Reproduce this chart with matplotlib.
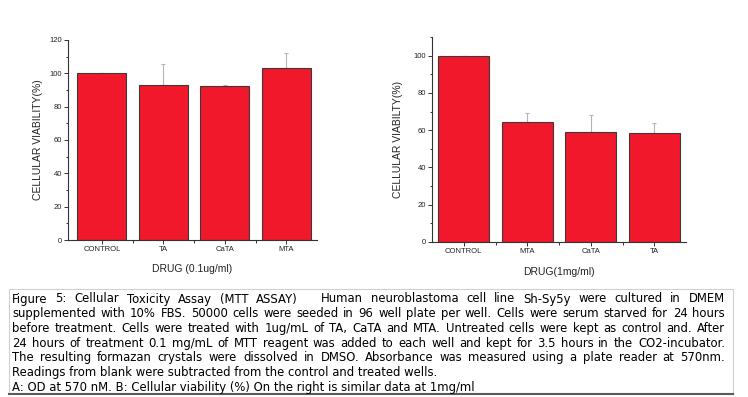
import numpy as np
import matplotlib
matplotlib.use('Agg')
import matplotlib.pyplot as plt
from matplotlib.ticker import MultipleLocator, FixedLocator
from matplotlib.patches import Rectangle
from matplotlib.lines import Line2D

# left panel: 0.1ug/ml
drugs_a = ['CONTROL', 'TA', 'CaTA', 'MTA']
viab_a = [100.0, 93.0, 92.5, 103.0]
err_a = [0.0, 12.5, 0.8, 9.5]

# right panel: 1mg/ml
drugs_b = ['CONTROL', 'MTA', 'CaTA', 'TA']
viab_b = [100.0, 64.3, 59.2, 58.6]
err_b = [0.0, 5.0, 9.0, 5.2]

caption = [
    "Figure 5: Cellular Toxicity Assay (MTT ASSAY)   Human neuroblastoma cell line Sh-Sy5y were cultured in DMEM",
    "supplemented with 10% FBS. 50000 cells were seeded in 96 well plate per well. Cells were serum starved for 24 hours",
    "before treatment. Cells were treated with 1ug/mL of TA, CaTA and MTA. Untreated cells were kept as control and. After",
    "24 hours of treatment 0.1 mg/mL of MTT reagent was added to each well and kept for 3.5 hours in the CO2-incubator.",
    "The resulting formazan crystals were dissolved in DMSO. Absorbance was measured using a plate reader at 570nm.",
    "Readings from blank were subtracted from the control and treated wells.",
    "A: OD at 570 nM. B: Cellular viability (%) On the right is similar data at 1mg/ml",
]
justified = [True, True, True, True, True, False, False]

W, H = 748, 397
bar_color = '#f2182b'
edge_color = '#3a3a3a'

plt.rcParams['font.family'] = ['Liberation Sans', 'DejaVu Sans']

fig = plt.figure(figsize=(W / 100, H / 100), dpi=100)


def px_axes(x0, x1, ytop, ybot):
    return fig.add_axes([x0 / W, 1 - ybot / H, (x1 - x0) / W, (ybot - ytop) / H])


def draw_panel(ax, names, vals, errs, ymax, xlabel, ylabel, xlim, ylab_x, xlab_y):
    x = np.arange(len(names))
    ax.bar(x, vals, width=0.8, color=bar_color, edgecolor=edge_color, linewidth=0.8, zorder=2)
    ax.errorbar(x, vals, yerr=[np.zeros(len(errs)), errs], fmt='none',
                ecolor='#b5b5b5', elinewidth=0.8, capsize=1.5, capthick=0.8, zorder=1)
    ax.set_xlim(*xlim)
    ax.set_ylim(0, ymax)
    ax.set_xticks(x)
    ax.set_xticklabels(names)
    ax.xaxis.set_minor_locator(FixedLocator(x[:-1] + 0.5))
    ax.yaxis.set_major_locator(MultipleLocator(20))
    ax.yaxis.set_minor_locator(MultipleLocator(10))
    for s in ['top', 'right']:
        ax.spines[s].set_visible(False)
    for s in ['left', 'bottom']:
        ax.spines[s].set_linewidth(0.8)
        ax.spines[s].set_color('#333333')
    ax.tick_params(which='major', length=3, width=0.7, labelsize=5.5, pad=1.5,
                   colors='#333333', labelcolor='#222222')
    ax.tick_params(which='minor', length=1.8, width=0.7, colors='#333333')
    ax.set_xlabel(xlabel, fontsize=7.5, color='#222222')
    ax.set_ylabel(ylabel, fontsize=7.5, color='#222222')
    ax.yaxis.set_label_coords(ylab_x, 0.5)
    ax.xaxis.set_label_coords(0.5, xlab_y)


ax1 = px_axes(68, 317, 40, 240)
draw_panel(ax1, drugs_a, viab_a, err_a, 120, 'DRUG (0.1ug/ml)', 'CELLULAR VIABILITY(%)',
           (-0.55, 3.5), -0.1, -0.12)

ax2 = px_axes(432, 686, 37, 242)
draw_panel(ax2, drugs_b, viab_b, err_b, 110, 'DRUG(1mg/ml)', 'CELLULAR VIABILTY(%)',
           (-0.5, 3.5), -0.114, -0.12)

# caption box
fig.patches.append(Rectangle((9 / W, 1 - 393 / H), (733 - 9) / W, (393 - 289) / H,
                             transform=fig.transFigure, fill=False,
                             edgecolor='#d0d0d0', linewidth=0.8))
fig.lines.append(Line2D([9 / W, 733 / W], [1 - 394 / H, 1 - 394 / H],
                        transform=fig.transFigure, color='#5a5a5a', linewidth=1.5))

# caption lines, justified word by word like the original
renderer = fig.canvas.get_renderer()
fs = 8.35
x_left, x_right = 12, 725
for i, line in enumerate(caption):
    y = 1 - (299 + i * 14.67) / H
    if not justified[i]:
        fig.text(x_left / W, y, line, fontsize=fs, family='DejaVu Sans', va='center', ha='left')
        continue
    words = line.split(' ')
    texts = []
    widths = []
    for w in words:
        t = fig.text(0, y, w, fontsize=fs, family='DejaVu Sans', va='center', ha='left')
        texts.append(t)
        widths.append(t.get_window_extent(renderer).width if w else 0.0)
    gap = (x_right - x_left - sum(widths)) / (len(words) - 1)
    xpos = x_left
    for t, wd in zip(texts, widths):
        t.set_x(xpos / W)
        xpos += wd + gap

fig.savefig('out.png', dpi=100)
